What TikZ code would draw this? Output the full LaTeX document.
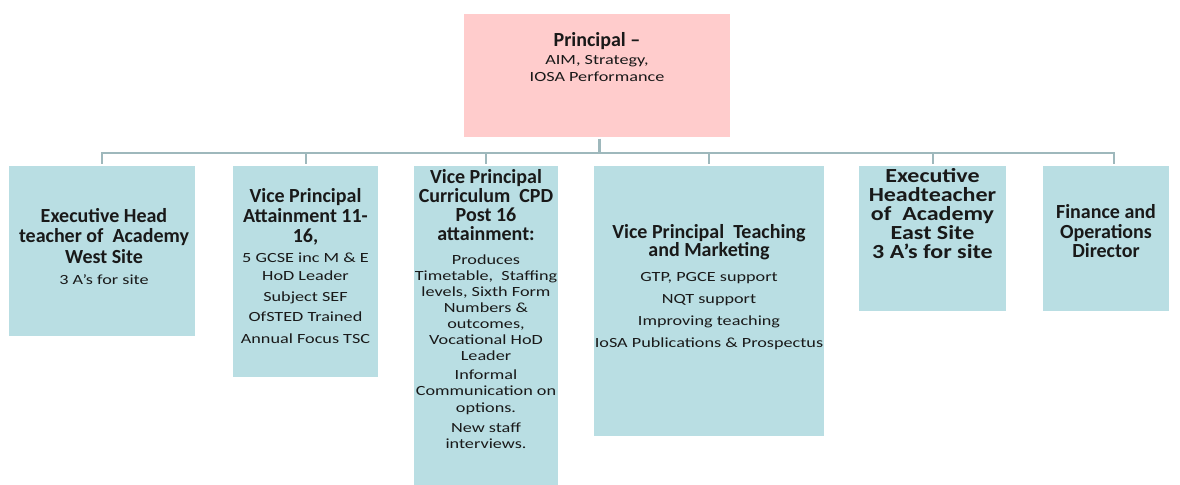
\documentclass[tikz,border=0pt]{standalone}
\usepackage{fontspec}
\setmainfont{Carlito}
\newfontfamily\widefont[FakeStretch=1.3]{Carlito}
\newfontfamily\wideheadfont[FakeStretch=1.2]{Carlito}
\newcommand{\sm}[1]{{\widefont\mdseries\fontsize{7}{8}\selectfont #1}}
\newcommand{\headfont}{\fontsize{10}{8}\selectfont\bfseries\lineskiplimit=-100pt\relax}

\definecolor{cellblue}{HTML}{B9DEE3}
\definecolor{headpink}{HTML}{FFCCCC}
\definecolor{linkgrey}{HTML}{9EB8BC}

\begin{document}
\begin{tikzpicture}[x=0.5pt,y=-0.5pt,
  cell/.style={fill=cellblue, draw=white, line width=0.6pt, inner sep=0pt},
  txt/.style={anchor=north, align=center, inner sep=0pt, text=black!90,
    font={\headfont}},
  link/.style={draw=linkgrey, line width=1pt}]
  \useasboundingbox[fill=white] (0,0) rectangle (1180,484);

  % the boxes
  \node[cell, fill=headpink, minimum width=134pt, minimum height=62.5pt] (prin) at (597,75.5) {};
  \node[cell, minimum width=94pt, minimum height=86pt] (ehw) at (102,251) {};
  \node[cell, minimum width=73.5pt, minimum height=106.5pt] (vpa) at (305.5,271.5) {};
  \node[cell, minimum width=73pt, minimum height=162.5pt] (vpc) at (486,327.5) {};
  \node[cell, minimum width=116pt, minimum height=136pt] (vpt) at (709,301) {};
  \node[cell, minimum width=74.5pt, minimum height=73.5pt] (ehe) at (932.5,238.5) {};
  \node[cell, minimum width=64pt, minimum height=73.5pt] (fod) at (1106,238.5) {};

  % the texts (line gaps on top of an 8pt baseline)
  \node[txt] (prin-t) at (597,32) {Principal –\\[1pt]
    \sm{AIM, Strategy,}\\[0.5pt]
    \sm{IOSA Performance}};
  \node[txt] (ehw-t) at (104,208) {Executive Head\\[2pt]
    teacher of~~Academy\\[2.5pt]
    West Site\\[2.5pt]
    \sm{3 A’s for site}};
  \node[txt] (vpa-t) at (305.5,188) {Vice Principal\\[2pt]
    Attainment 11-\\[2pt]
    16,\\[2pt]
    \sm{5 GCSE inc M \& E}\\[1pt]
    \sm{HoD Leader}\\[2.5pt]
    \sm{Subject SEF}\\[2pt]
    \sm{OfSTED Trained}\\[3pt]
    \sm{Annual Focus TSC}};
  \node[txt] (vpc-t) at (486,169) {Vice Principal\\[1.5pt]
    Curriculum~~CPD\\[1.5pt]
    Post 16\\[1.5pt]
    attainment:\\[4pt]
    \sm{Produces}\\
    \sm{Timetable,~~Staffing}\\
    \sm{levels, Sixth Form}\\
    \sm{Numbers \&}\\
    \sm{outcomes,}\\
    \sm{Vocational HoD}\\
    \sm{Leader}\\[1.5pt]
    \sm{Informal}\\
    \sm{Communication on}\\[0.5pt]
    \sm{options.}\\[2pt]
    \sm{New staff}\\
    \sm{interviews.}};
  \node[txt] (vpt-t) at (709,224) {Vice Principal~~Teaching\\[1pt]
    and Marketing\\[4.5pt]
    \sm{GTP, PGCE support}\\[3pt]
    \sm{NQT support}\\[3pt]
    \sm{Improving teaching}\\[3pt]
    \sm{IoSA Publications \& Prospectus}};
  \node[txt, font={\wideheadfont\headfont}] (ehe-t) at (932.5,168) {Executive\\[1.5pt]
    Headteacher\\[1.5pt]
    of~~Academy\\[1.5pt]
    East Site\\[1.5pt]
    3 A’s for site};
  \node[txt] (fod-t) at (1106,204) {Finance and\\[2pt]
    Operations\\[1.5pt]
    Director};

  % connectors
  \coordinate (hub) at (599,153);
  \draw[link, line width=1.5pt] (prin.south -| hub) -- (hub);
  \draw[link] (hub) -| (ehw.north);
  \draw[link] (hub) -| (vpa.north);
  \draw[link] (hub) -| (vpc.north);
  \draw[link] (hub) -| (vpt.north);
  \draw[link] (hub) -| (ehe.north);
  \draw[link] (hub) -| ([xshift=4pt]fod.north);
\end{tikzpicture}
\end{document}
